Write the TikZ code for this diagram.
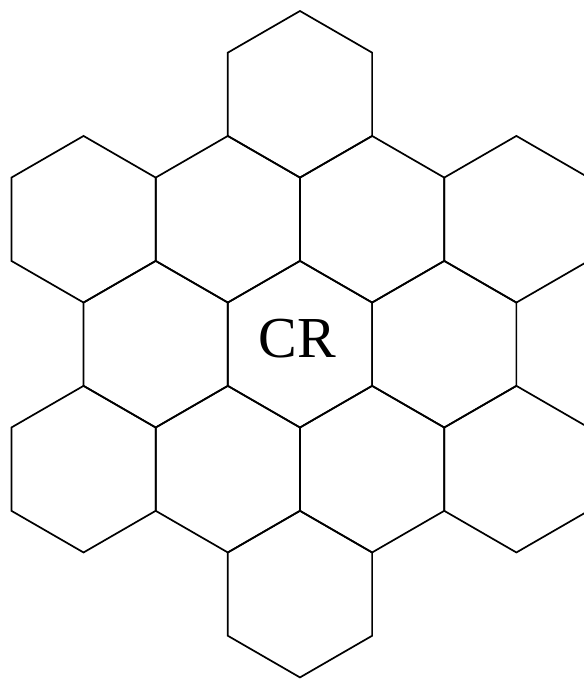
\documentclass[tikz,border=0pt]{standalone}
\usepackage{fontspec}
\setmainfont{Liberation Serif}

\tikzset{
  cell/.style={draw=black, line width=1.7pt, line join=miter},
  cellname/.style={font=\fontsize{58}{66}\selectfont, inner sep=0pt}
}

\begin{document}
\begin{tikzpicture}[x=83.3pt,y=83.3pt]
%frame
\useasboundingbox (-3.601,-4.019) rectangle (3.409,4.132);
\clip (-3.601,-4.019) rectangle (3.409,4.132);

%cells
\foreach \cx/\cy in {0/0, 1.732/0, -1.732/0,
                     0.866/1.5, -0.866/1.5, 0.866/-1.5, -0.866/-1.5,
                     0/3, 0/-3,
                     2.598/1.5, -2.598/1.5, 2.598/-1.5, -2.598/-1.5}
  \draw[cell,shift={(\cx,\cy)}] (90:1) -- (150:1) -- (210:1) -- (270:1) -- (330:1) -- (30:1) -- cycle;

%text
\node[cellname] (cr) at (-0.03,0.07) {CR};
\end{tikzpicture}
\end{document}
